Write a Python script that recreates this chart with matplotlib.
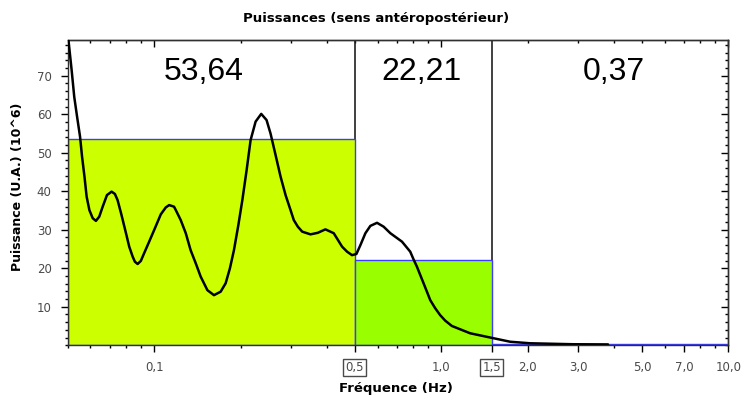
import matplotlib
matplotlib.use("Agg")
import matplotlib.pyplot as plt
from matplotlib.ticker import FixedLocator, LogLocator, MultipleLocator, NullFormatter
import numpy as np

# Power spectrum (frequency in Hz, power in 10^6 U.A.)
FREQ = [0.0503, 0.0516, 0.0527, 0.0539, 0.0552, 0.0561, 0.0572, 0.0582, 0.0595,
        0.0611, 0.0627, 0.0644, 0.0662, 0.0685, 0.0711, 0.0730, 0.0746, 0.0770,
        0.0798, 0.0819, 0.0842, 0.0857, 0.0876, 0.0899, 0.0923, 0.0961, 0.100,
        0.1055, 0.1098, 0.1128, 0.1173, 0.119, 0.1238, 0.1289, 0.134, 0.1396,
        0.1453, 0.1533, 0.1616, 0.1705, 0.1775, 0.1837, 0.1897, 0.1965, 0.2029,
        0.2100, 0.2168, 0.2257, 0.2361, 0.2464, 0.2544, 0.2649, 0.2757, 0.287,
        0.2987, 0.3066, 0.3166, 0.328, 0.3505, 0.3715, 0.395, 0.4223, 0.4516,
        0.470, 0.489, 0.5065, 0.523, 0.5444, 0.5665, 0.5976, 0.630, 0.665,
        0.7302, 0.78, 0.801, 0.823, 0.868, 0.916, 0.953, 0.992, 1.032, 1.089,
        1.261, 1.48, 1.738, 2.04, 2.88, 3.81]
POWER = [79.3, 71.5, 64.5, 59.4, 54.2, 49.0, 43.8, 38.6, 35.1,
         33.0, 32.3, 33.4, 36.0, 39.0, 39.9, 39.3, 37.7, 33.8,
         29.1, 25.6, 23.0, 21.7, 21.1, 21.9, 23.9, 26.9, 29.9,
         34.0, 35.8, 36.4, 36.0, 35.1, 32.5, 29.1, 24.7, 21.3,
         17.8, 14.3, 13.0, 13.9, 16.1, 20.0, 24.7, 31.2, 37.7,
         45.5, 53.3, 58.1, 60.1, 58.5, 55.0, 49.4, 43.8, 39.0,
         35.1, 32.5, 30.8, 29.5, 28.8, 29.2, 30.1, 29.1, 25.6,
         24.3, 23.4, 23.7, 26.0, 29.1, 31.0, 31.8, 30.8, 29.1,
         26.9, 24.3, 22.3, 20.4, 16.1, 11.7, 9.6, 7.8, 6.4, 5.0,
         3.1, 2.0, 0.9, 0.5, 0.25, 0.2]

# Frequency bands and their mean power
BAND_EDGES = [0.05, 0.5, 1.5, 10.0]
BAND_POWER = [53.64, 22.21, 0.37]
BAND_TEXT = ["53,64", "22,21", "0,37"]
BAND_COLORS = ["#ccff00", "#99ff00", "white"]
BAND_TEXT_X = [0.149, 0.852, 4.0]

XTICKS = [0.1, 0.5, 1.0, 1.5, 2.0, 3.0, 5.0, 7.0, 10.0]
XTICK_LABELS = ["0,1", "0,5", "1,0", "1,5", "2,0", "3,0", "5,0", "7,0", "10,0"]
YTICKS = [10, 20, 30, 40, 50, 60, 70]

W, H = 745, 403
fig = plt.figure(figsize=(W / 100, H / 100), dpi=100)
ax = fig.add_axes([67.7 / W, 1 - 345.2 / H, (728.3 - 67.7) / W, (345.2 - 40) / H])
ax.set_xscale("log")
ax.set_xlim(0.05, 10)
ax.set_ylim(0, 79.3)

# band separators and bands
for x in BAND_EDGES[1:3]:
    ax.axvline(x, color="#202020", lw=1.2, zorder=1)
for i in range(3):
    left, right = BAND_EDGES[i], BAND_EDGES[i + 1]
    ax.bar(left, BAND_POWER[i], width=right - left, align="edge",
           color=BAND_COLORS[i], edgecolor="#3c3cff", lw=1.0, zorder=2)
    ax.text(BAND_TEXT_X[i], 68.9, BAND_TEXT[i], ha="center", va="baseline",
            fontsize=23, family="Liberation Sans", color="black", zorder=4)

ax.plot(FREQ, POWER, color="black", lw=1.8, zorder=3,
        solid_capstyle="round", solid_joinstyle="round")

# bottom / left ticks (outward)
ax.xaxis.set_major_locator(FixedLocator(XTICKS))
ax.set_xticklabels(XTICK_LABELS)
ax.xaxis.set_minor_locator(LogLocator(base=10, subs=np.arange(2, 10)))
ax.xaxis.set_minor_formatter(NullFormatter())
ax.yaxis.set_major_locator(FixedLocator(YTICKS))
ax.yaxis.set_minor_locator(MultipleLocator(2))
ax.tick_params(which="major", length=5, width=1, pad=6.5, labelsize=8.5,
               labelcolor="#4a4a4a", direction="out")
ax.tick_params(which="minor", length=2.5, width=1, direction="out")

for lab in ax.get_xticklabels():
    if lab.get_text() in ("0,5", "1,5"):
        lab.set_bbox(dict(boxstyle="square,pad=0.18", fc="white", ec="#4a4a4a", lw=1))

# top / right ticks (inward)
top = ax.secondary_xaxis("top")
top.xaxis.set_major_locator(FixedLocator([0.1, 1.0, 10.0]))
top.xaxis.set_minor_locator(LogLocator(base=10, subs=np.arange(2, 10)))
top.xaxis.set_major_formatter(NullFormatter())
top.xaxis.set_minor_formatter(NullFormatter())
top.tick_params(which="major", direction="in", length=5, width=1)
top.tick_params(which="minor", direction="in", length=2.5, width=1)

right = ax.secondary_yaxis("right")
right.yaxis.set_major_locator(FixedLocator(YTICKS))
right.yaxis.set_minor_locator(MultipleLocator(2))
right.yaxis.set_major_formatter(NullFormatter())
right.tick_params(which="major", direction="in", length=5, width=1)
right.tick_params(which="minor", direction="in", length=2.5, width=1)

for sp in list(ax.spines.values()) + list(top.spines.values()) + list(right.spines.values()):
    sp.set_color("#303030")
    sp.set_linewidth(1)

fig.text(375.8 / W, 1 - 18.3 / H, "Puissances (sens antéropostérieur)",
         ha="center", va="center", fontsize=9.5, fontweight="bold")
fig.text(396 / W, 1 - 388.5 / H, "Fréquence (Hz)",
         ha="center", va="center", fontsize=9.5, fontweight="bold")
fig.text(17.7 / W, 1 - 187 / H, "Puissance (U.A.) (10^6)", rotation=90,
         ha="center", va="center", fontsize=9, fontweight="bold")

fig.savefig("out.png", dpi=100)
